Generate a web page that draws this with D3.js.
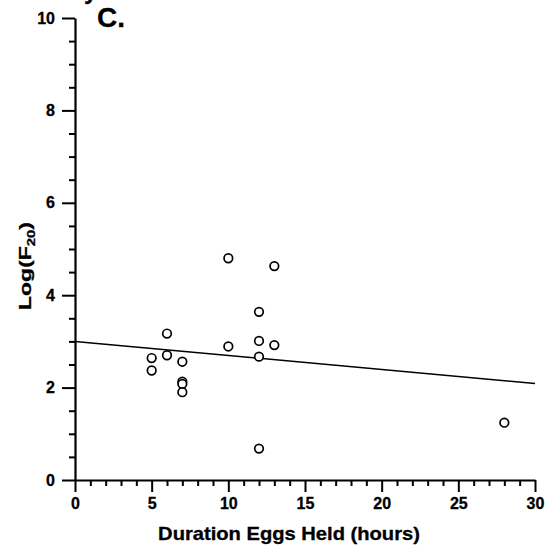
<!DOCTYPE html>
<html><head><meta charset="utf-8">
<script src="https://cdn.jsdelivr.net/npm/d3@7"></script>
<style>body{margin:0;background:#fff;} svg{display:block;font-family:"Liberation Sans",Arial,sans-serif;font-weight:bold;} text{stroke:#000;stroke-width:0.3px;}</style>
</head><body>
<svg id="c" width="545" height="550"></svg>
<script>
const durationHours = [5,5,6,6,7,7,7,7,10,10,12,12,12,12,13,13,28];
const logF20 = [2.64,2.37,3.17,2.70,2.56,2.13,2.08,1.90,4.80,2.89,3.64,3.01,2.67,0.68,4.63,2.92,1.24];
const fitX = [0,30];
const fitY = [3.00,2.09];
const xTicks = [0,5,10,15,20,25,30];
const yTicks = [0,2,4,6,8,10];

const svg = d3.select("#c");
const x = d3.scaleLinear().domain([0,30]).range([75,535]);
const y = d3.scaleLinear().domain([0,10]).range([480,18]);

const xMinor = d3.range(0,31,1).filter(v=>v%5!==0);
const yMinor = d3.range(0,10.01,0.5).filter(v=>v%2!==0);

svg.append("g").attr("transform","translate(0,480)")
  .call(d3.axisBottom(x).tickValues(xMinor).tickSize(6).tickFormat(""))
  .call(g=>{g.select(".domain").remove();g.selectAll("line").attr("stroke-width",2);});
svg.append("g").attr("transform","translate(75,0)")
  .call(d3.axisLeft(y).tickValues(yMinor).tickSize(6).tickFormat(""))
  .call(g=>{g.select(".domain").remove();g.selectAll("line").attr("stroke-width",2);});

const gx = svg.append("g").attr("transform","translate(0,480)")
  .call(d3.axisBottom(x).tickValues(xTicks).tickSize(12).tickSizeOuter(0).tickPadding(6));
gx.select(".domain").attr("stroke-width",2.2);
gx.selectAll("line").attr("stroke-width",2);
gx.selectAll("text").attr("font-size",16).attr("font-weight","bold").attr("font-family","Liberation Sans, Arial, sans-serif").attr("fill","#000");

const gy = svg.append("g").attr("transform","translate(75,0)")
  .call(d3.axisLeft(y).tickValues(yTicks).tickSize(13).tickSizeOuter(0).tickPadding(7));
gy.select(".domain").attr("stroke-width",2.2);
gy.selectAll("line").attr("stroke-width",2);
gy.selectAll("text").attr("font-size",16).attr("font-weight","bold").attr("font-family","Liberation Sans, Arial, sans-serif").attr("fill","#000");

svg.append("line")
  .attr("x1",x(fitX[0])).attr("y1",y(fitY[0]))
  .attr("x2",x(fitX[1])).attr("y2",y(fitY[1]))
  .attr("stroke","#000").attr("stroke-width",1.5);

svg.append("g").selectAll("circle").data(durationHours.map((d,i)=>[d,logF20[i]]))
  .join("circle")
  .attr("cx",d=>x(d[0])).attr("cy",d=>y(d[1])).attr("r",4.3)
  .attr("fill","#fff").attr("stroke","#000").attr("stroke-width",1.7);

const xt = svg.append("text").attr("text-anchor","middle").attr("font-size",17.5)
  .text("Duration Eggs Held (hours)");
const xw = xt.node().getBBox().width;
xt.attr("transform",`translate(289,540) scale(${262/xw},1)`);

const yl = svg.append("text").attr("text-anchor","middle").attr("font-size",17);
yl.append("tspan").text("Log(F");
yl.append("tspan").attr("font-size",11).attr("dy",4).text("20");
yl.append("tspan").attr("dy",-4).text(")");
const yw = yl.node().getBBox().width;
yl.attr("transform",`translate(31,266) rotate(-90) scale(${88/yw},1)`);

svg.append("text").attr("x",97).attr("y",27).attr("font-size",28).text("C.");
svg.append("text").attr("x",84).attr("y",-1).attr("font-size",24).text("y");
</script>
</body></html>
